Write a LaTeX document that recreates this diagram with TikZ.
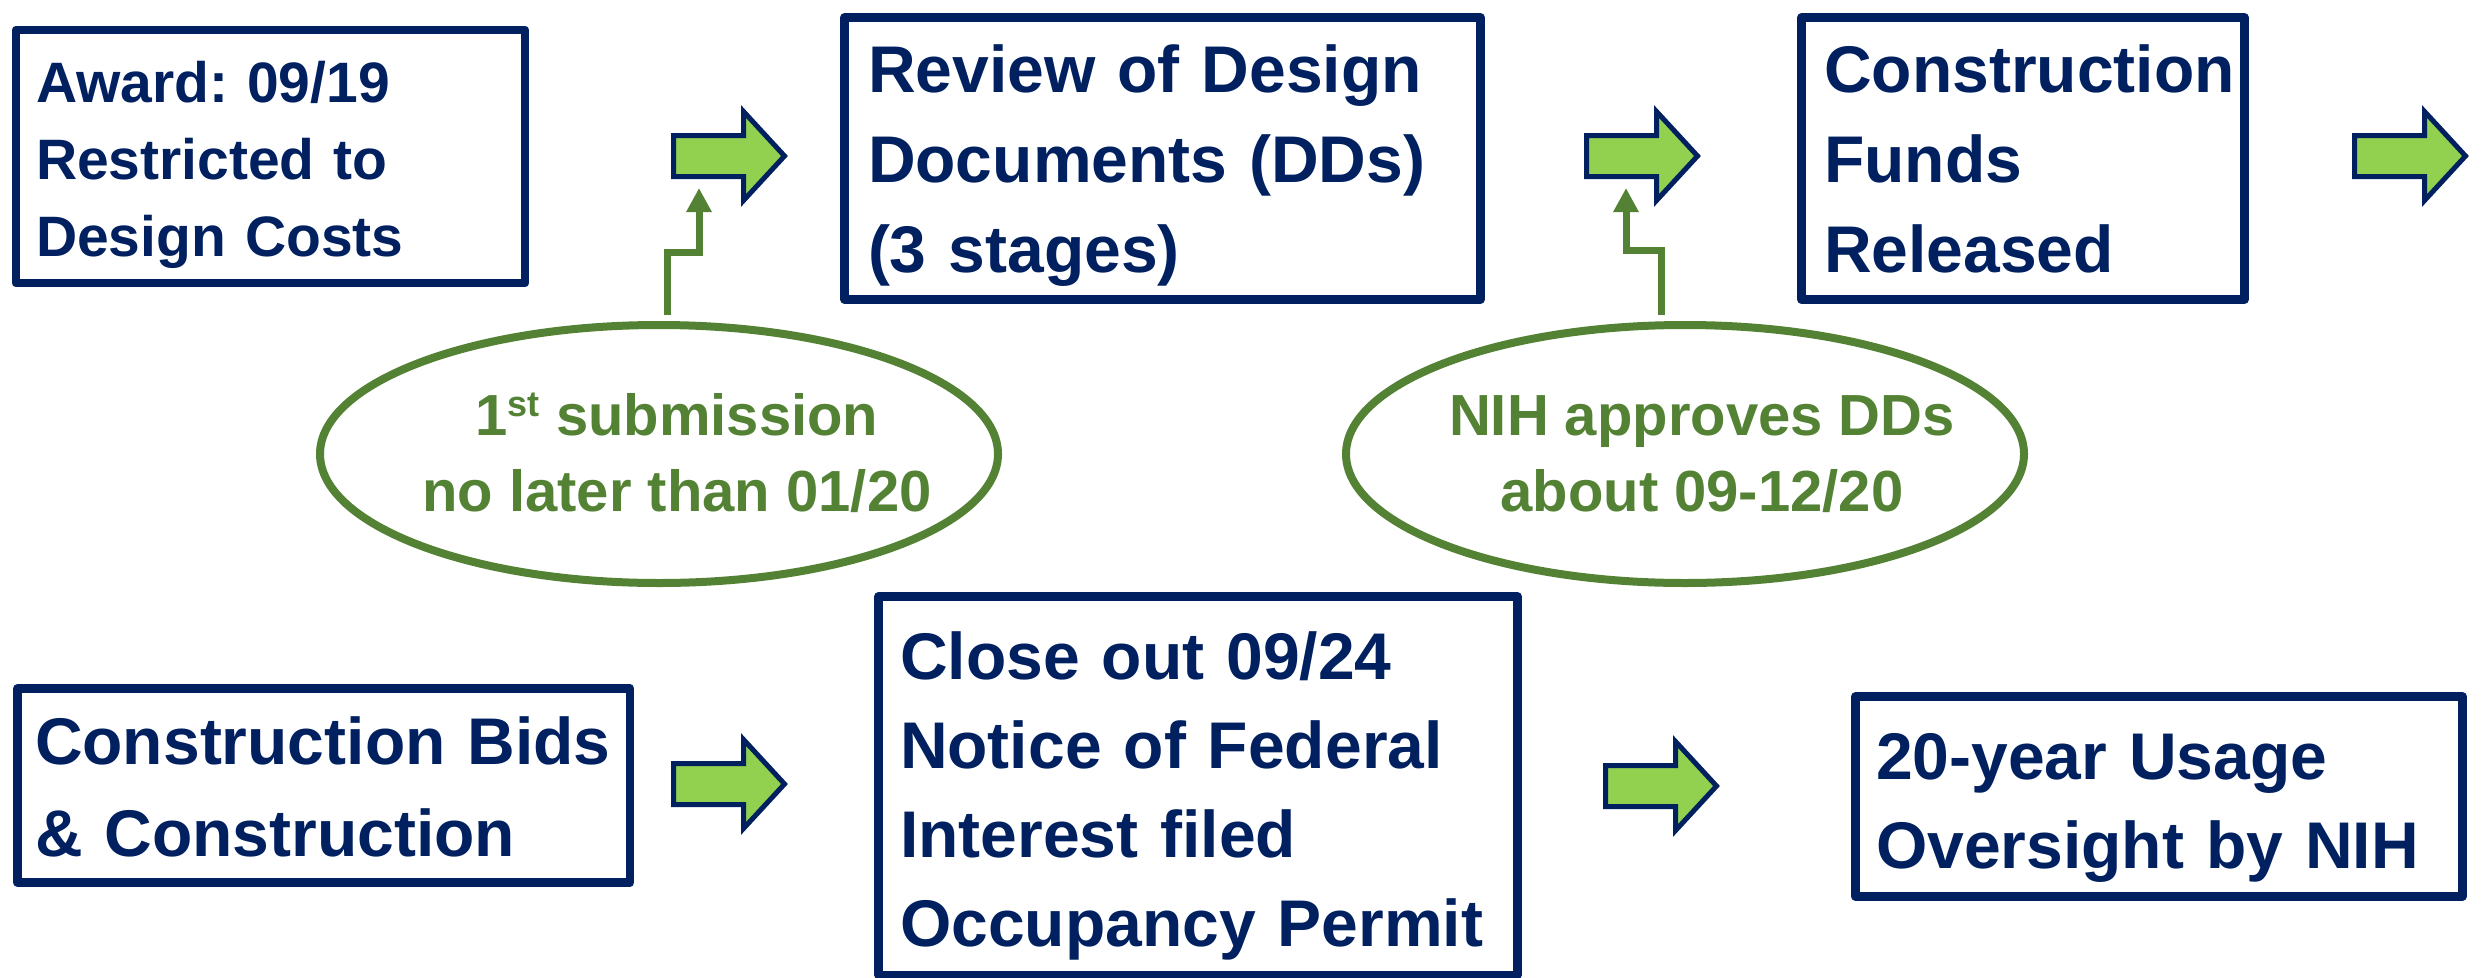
\documentclass[tikz,border=0pt]{standalone}
\usepackage{fontspec}
\setmainfont{Liberation Sans}
\usetikzlibrary{shapes.geometric,arrows.meta}
\definecolor{navy}{RGB}{0,32,96}
\definecolor{lgreen}{RGB}{146,208,80}
\definecolor{dgreen}{RGB}{84,130,53}
\frenchspacing
\begin{document}
\frenchspacing
\begin{tikzpicture}[x=1pt,y=-1pt,
  box/.style={draw=navy, line width=8.5pt, line join=round, rectangle, inner sep=0pt, outer sep=0pt, align=left, text=navy},
  bigtxt/.style={font=\bfseries\fontsize{66}{90}\selectfont},
  ell/.style={draw=dgreen, line width=8pt, ellipse, inner xsep=-80pt, inner ysep=0pt, outer sep=0pt, align=center, text=dgreen, minimum width=678pt, minimum height=258pt, font=\bfseries\fontsize{58}{76}\selectfont},
  conn/.style={draw=dgreen, line width=7pt, -{Triangle[width=24pt,length=24pt]}},
  barrow/.pic={\draw[line width=5pt, draw=navy, fill=lgreen, line join=miter] (2.5,-20.5) -- (72.5,-20.5) -- (72.5,-44.5) -- (113.5,0) -- (72.5,44.5) -- (72.5,20.5) -- (2.5,20.5) -- cycle;}
]
\useasboundingbox (0,0) rectangle (2483,977);

% top row boxes
\node[box, minimum width=509pt, minimum height=253pt, text width=469pt, font=\bfseries\fontsize{57}{77}\selectfont] (b1) at (270.5,156.5)
  {\rule{0pt}{60pt}Award: 09/19\\Restricted to\\Design Costs\rule[-15pt]{0pt}{15pt}};
\node[box, bigtxt, minimum width=636pt, minimum height=282pt, text width=589pt] (b2) at (1162.5,158.5)
  {\rule{0pt}{62pt}Review of Design\\Documents (DDs)\\(3 stages)\rule[-15pt]{0pt}{15pt}};
\node[box, bigtxt, minimum width=443pt, minimum height=282pt, text width=398pt] (b3) at (2023,158.5)
  {\rule{0pt}{62pt}Construction\\Funds\\Released\rule[-15pt]{0pt}{15pt}};

% bottom row boxes
\node[box, font=\bfseries\fontsize{66}{92}\selectfont, minimum width=612.5pt, minimum height=194pt, text width=577.5pt] (b4) at (323.75,785.5)
  {\rule{0pt}{64pt}Construction Bids\\\& Construction\rule[-15pt]{0pt}{15pt}};
\node[box, font=\bfseries\fontsize{66}{89.3}\selectfont, minimum width=639pt, minimum height=378.5pt, text width=596pt] (b5) at (1198,785.75)
  {\rule{0pt}{69.5pt}Close out 09/24\\Notice of Federal\\Interest filed\\Occupancy Permit\rule[-15pt]{0pt}{15pt}};
\node[box, font=\bfseries\fontsize{66}{89}\selectfont, minimum width=607pt, minimum height=200pt, text width=566pt] (b6) at (2159,796.5)
  {\rule{0pt}{69pt}20-year Usage\\Oversight by NIH\rule[-15pt]{0pt}{15pt}};

% ellipses
\node[ell] (e1) at (659,454)
  {\hspace*{36pt}\rule{0pt}{51pt}1\raisebox{19pt}{\fontsize{36}{36}\selectfont st} submission\\\hspace*{36pt}no later than 01/20\rule[-13pt]{0pt}{13pt}};
\node[ell] (e2) at (1685,454)
  {\hspace*{34pt}\rule{0pt}{51pt}NIH approves DDs\\\hspace*{34pt}about 09-12/20\rule[-13pt]{0pt}{13pt}};

% block arrows
\pic (a1) at (671,156) {barrow};
\pic (a2) at (1584,156) {barrow};
\pic (a3) at (2352,156) {barrow};
\pic (a4) at (671,784) {barrow};
\pic (a5) at (1603,786) {barrow};

% connectors
\coordinate (t1) at (699,188);
\coordinate (t2) at (1626,188);
\draw[conn] ([xshift=8pt,yshift=10pt]e1.north) -- ++(0,-63) -| (t1);
\draw[conn] ([xshift=-24pt,yshift=10pt]e2.north) -- ++(0,-65) -| (t2);
\end{tikzpicture}
\end{document}
